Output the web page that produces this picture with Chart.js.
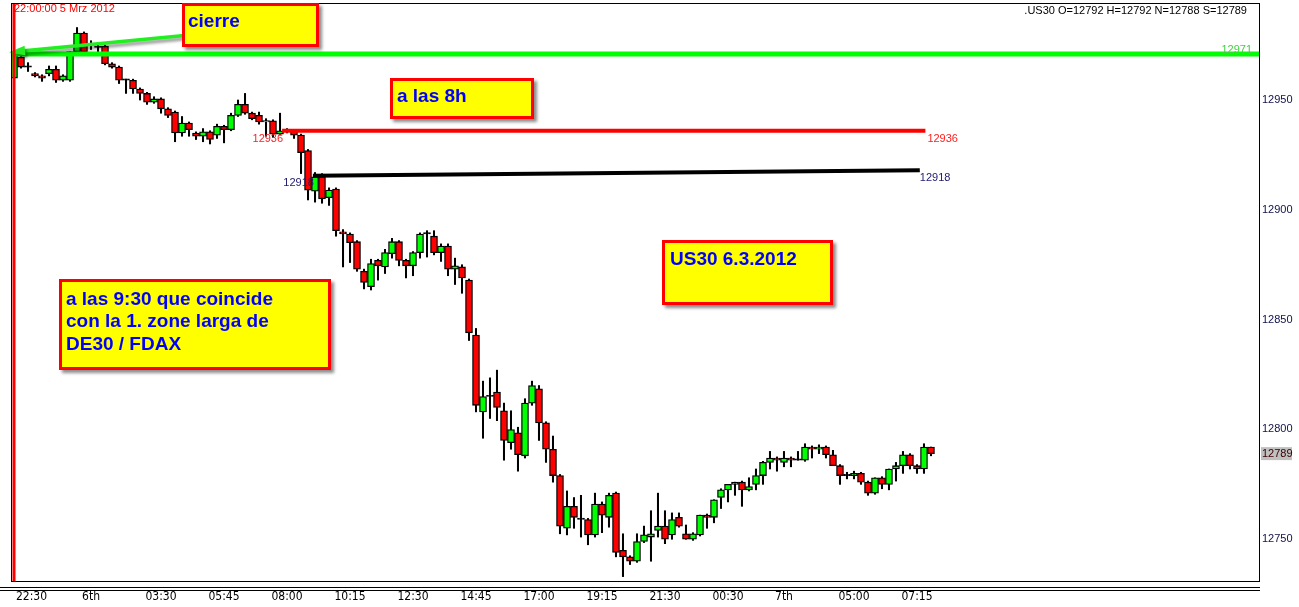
<!DOCTYPE html>
<html lang="es">
<head>
  <meta charset="UTF-8" />
  <title>US30 6.3.2012</title>
  <script src="https://cdn.jsdelivr.net/npm/chart.js"></script>
  <style>
    html, body {
      margin: 0;
      padding: 0;
      background: #ffffff;
    }
    .wrap {
      position: relative;
      width: 1299px;
      height: 607px;
    }
    .note {
      position: absolute;
      box-sizing: border-box;
      background: #ffff00;
      border: 3px solid #ff0000;
      box-shadow: 3px 3px 3px rgba(0,0,0,0.45);
      color: #0000ff;
      font: bold 19px 'Liberation Sans', Arial, sans-serif;
      line-height: 21.7px;
      white-space: nowrap;
    }
    .info {
      position: absolute;
      font: 11px 'Liberation Sans', Arial, sans-serif;
      white-space: nowrap;
    }
  </style>
</head>
<body>
  <div class="wrap">
    <canvas id="us30"></canvas>

    <div class="info" style="left:14px; top:2px; color:#ff0000;">22:00:00 5 Mrz 2012</div>
    <div class="info" style="right:52px; top:4px; color:#000000;">.US30 O=12792 H=12792 N=12788 S=12789</div>

    <div class="note" style="left:182px; top:3px; width:137px; height:44px; padding:4px 0 0 3px;">cierre</div>
    <div class="note" style="left:390px; top:78px; width:144px; height:41px; padding:4px 0 0 4px;">a las 8h</div>
    <div class="note" style="left:662px; top:240px; width:171px; height:65px; padding:5px 0 0 5px;">US30 6.3.2012</div>
    <div class="note" style="left:59px; top:279px; width:272px; height:91px; padding:5.6px 0 0 4px; line-height:22.5px;">a las 9:30 que coincide<br>con la 1. zone larga de<br>DE30 / FDAX</div>
  </div>

  <script>
    // 15-minute bars, 5 Mrz 22:00 -> 7 Mrz ~07:30
    const opens = [
      12960, 12969.5, 12965, 12962, 12961, 12962, 12964, 12959, 12959, 12972,
      12980.5, 12975, 12974, 12974.5, 12966.5, 12965, 12959, 12959, 12955, 12953,
      12949, 12950.5, 12946, 12944.5, 12935, 12939.5, 12935, 12933.5, 12935.5, 12934,
      12938, 12936.5, 12943, 12948, 12944, 12943, 12940, 12940.5, 12934.5, 12936,
      12936, 12934, 12927, 12908.5, 12915, 12905.5, 12909.5, 12890, 12889, 12885.5,
      12872, 12865, 12877, 12874, 12880, 12885.5, 12877, 12874.5, 12880.5, 12889,
      12888, 12880.5, 12883.5, 12873, 12874, 12868, 12843, 12808, 12815, 12817,
      12808.5, 12794, 12798.5, 12788, 12812, 12818.5, 12803, 12791, 12779, 12755,
      12765, 12759, 12759, 12752, 12766, 12760, 12771, 12745, 12742, 12740,
      12749, 12751, 12754, 12756, 12752, 12760, 12752.5, 12750, 12752, 12761,
      12760, 12769, 12772.5, 12775, 12776, 12772.5, 12775, 12779, 12785, 12787,
      12785, 12787, 12786, 12786, 12792, 12791, 12792, 12788.5, 12783.5, 12779,
      12779, 12780, 12776, 12771, 12778, 12775, 12782, 12783.5, 12788.5, 12783.5, 12782, 12792
    ];
    const highs = [
      12972, 12970, 12967, 12962.5, 12961.5, 12965.5, 12965.5, 12961.5, 12972, 12983,
      12981, 12977, 12976, 12975, 12967, 12965.5, 12959.5, 12959.5, 12955.5, 12953.5,
      12951.5, 12951, 12946.5, 12945, 12942.5, 12940, 12935.5, 12937, 12936, 12939,
      12938.5, 12944, 12950, 12953, 12944.5, 12944.5, 12941.5, 12941, 12944, 12937,
      12936.5, 12934.5, 12927.5, 12917, 12916.5, 12910, 12910, 12891, 12889.5, 12886,
      12873, 12877.5, 12877.5, 12882, 12887, 12886, 12877.5, 12881, 12889.5, 12890.5,
      12890.5, 12884.5, 12884.5, 12878, 12875, 12868.5, 12846, 12822, 12823.5, 12827,
      12812, 12808.5, 12801, 12814, 12822, 12820, 12803.5, 12797, 12779.5, 12772,
      12769, 12770, 12759.5, 12771, 12767, 12771, 12771.5, 12752.5, 12742.5, 12752.5,
      12756, 12763, 12771, 12763, 12762, 12762, 12756.5, 12753, 12761, 12761.5,
      12768, 12773, 12775, 12776, 12776.5, 12778, 12782, 12785.5, 12790, 12787.5,
      12790, 12787.5, 12790, 12793.5, 12792.5, 12793, 12792.5, 12790.5, 12784, 12780.5,
      12781, 12780.5, 12776.5, 12778, 12778.5, 12782, 12785, 12790, 12789, 12784, 12793.5, 12792
    ];
    const lows = [
      12959, 12964.5, 12963, 12960.5, 12958.5, 12961, 12958, 12958.5, 12958.5, 12971,
      12971.5, 12973, 12972, 12966, 12964.5, 12957.5, 12953, 12953, 12950, 12948,
      12948.5, 12944, 12942, 12931, 12933.5, 12933.5, 12932, 12931, 12930, 12932.5,
      12930.5, 12936, 12942.5, 12943.5, 12941, 12939, 12933.5, 12933, 12934, 12935,
      12932.5, 12916.5, 12904.5, 12903.5, 12903, 12902, 12888, 12874, 12876, 12872,
      12864, 12863.5, 12868, 12871, 12878, 12874.5, 12869, 12870, 12878, 12878.5,
      12879.5, 12876.5, 12870, 12866, 12862, 12840.5, 12808, 12796, 12805, 12804,
      12786, 12791, 12781, 12787, 12811, 12795, 12785, 12776, 12752.5, 12752,
      12755, 12751, 12747.5, 12751, 12753, 12755.5, 12742, 12733, 12738.5, 12739.5,
      12748.5, 12740, 12751, 12748, 12750, 12755.5, 12750, 12749.5, 12751.5, 12755,
      12757.5, 12764, 12767, 12770, 12765, 12772, 12772.5, 12775, 12782, 12781,
      12783, 12783, 12786, 12785.5, 12787, 12789, 12787, 12783.5, 12775, 12777.5,
      12777.5, 12775, 12770, 12770.5, 12773, 12772.5, 12776.5, 12780, 12782, 12780, 12780, 12788
    ];
    const closes = [
      12971, 12965, 12965, 12961, 12960, 12964, 12959, 12961, 12972, 12980.5,
      12972, 12975, 12974, 12966.5, 12965, 12959, 12959, 12955, 12953, 12949,
      12950.5, 12946, 12943, 12935, 12939.5, 12936.5, 12933.5, 12935.5, 12932, 12938,
      12936.5, 12943, 12948, 12944, 12941.5, 12940, 12940.5, 12934.5, 12936, 12936,
      12934, 12926, 12909, 12915, 12905, 12909, 12890.5, 12889, 12885, 12873,
      12867, 12875.5, 12874.5, 12880.5, 12885.5, 12877, 12874.5, 12880.5, 12889, 12889,
      12880.5, 12883.5, 12873, 12874.5, 12869, 12844, 12811, 12815, 12815, 12810,
      12795, 12800, 12788.5, 12812, 12820, 12803, 12791, 12779, 12756, 12765,
      12760, 12759, 12752, 12766, 12761, 12770, 12744, 12742, 12740, 12749,
      12752, 12752.5, 12756, 12750, 12759, 12756, 12750, 12752.5, 12761, 12760,
      12768, 12772.5, 12775, 12776, 12772.5, 12774, 12779, 12785, 12787, 12786,
      12787, 12786, 12786, 12792, 12791, 12792, 12788.5, 12783.5, 12779, 12779,
      12780, 12776, 12771, 12778, 12775, 12782, 12783.5, 12788.5, 12783.5, 12782, 12792, 12789
    ];

    // time axis labels (bar index -> text)
    const xTickIdx = [2.5, 11, 21, 30, 39, 48, 57, 66, 75, 84, 93, 102, 110, 120, 129];
    const xTickText = ['22:30', '6th', '03:30', '05:45', '08:00', '10:15', '12:30', '14:45',
                       '17:00', '19:15', '21:30', '00:30', '7th', '05:00', '07:15'];
    const yTicks = [12750, 12800, 12850, 12900, 12950];

    // drawn levels: bar index range and price
    const lineGreenX = [-0.43, 177.86], lineGreenY = [12971, 12971];
    const lineRedX = [38.3, 130.2], lineRedY = [12936, 12936];
    const lineBlackX = [42.7, 129.4], lineBlackY = [12915.5, 12918];
    // arrow from the "cierre" note to the close level
    const arrowX = [25.1, -0.7], arrowY = [12979.6, 12971.8];

    const xy = (xs, ys) => xs.map((x, i) => ({ x: x, y: ys[i] }));

    const wickData = opens.map((o, i) => ({ x: i, y: [lows[i], highs[i]] }));
    const bodyData = opens.map((o, i) => ({ x: i, y: [o, closes[i]] }));
    const bodyColors = opens.map((o, i) =>
      closes[i] > o ? '#00ff00' : (closes[i] < o ? '#ff0000' : '#000000'));

    const sans = "'Liberation Sans', Arial, sans-serif";

    const overlay = {
      id: 'overlay',
      afterDatasetsDraw(chart) {
        const { ctx, chartArea: a, scales } = chart;
        const px = v => scales.x.getPixelForValue(v);
        const py = v => scales.y.getPixelForValue(v);

        // arrow
        ctx.save();
        const x0 = px(arrowX[0]), y0 = py(arrowY[0]);
        const x1 = px(arrowX[1]), y1 = py(arrowY[1]);
        const ang = Math.atan2(y1 - y0, x1 - x0);
        const c = Math.cos(ang), s = Math.sin(ang);
        ctx.shadowColor = 'rgba(0,0,0,0.4)';
        ctx.shadowOffsetX = 2;
        ctx.shadowOffsetY = 3;
        ctx.shadowBlur = 3;
        ctx.strokeStyle = '#22ee22';
        ctx.fillStyle = '#22ee22';
        ctx.lineWidth = 3.5;
        ctx.beginPath();
        ctx.moveTo(x0, y0);
        ctx.lineTo(x1 - 10 * c, y1 - 10 * s);
        ctx.stroke();
        ctx.beginPath();
        ctx.moveTo(x1, y1);
        ctx.lineTo(x1 - 16 * c + 5 * s, y1 - 16 * s - 5 * c);
        ctx.lineTo(x1 - 16 * c - 5 * s, y1 - 16 * s + 5 * c);
        ctx.closePath();
        ctx.fill();
        ctx.restore();

        // level labels
        ctx.save();
        ctx.font = '11px ' + sans;
        ctx.textBaseline = 'alphabetic';

        ctx.fillStyle = '#40d040';
        ctx.textAlign = 'right';
        ctx.fillText(String(lineGreenY[1]), a.right - 7, py(lineGreenY[1]) - 1);

        ctx.fillStyle = '#ff2020';
        ctx.textAlign = 'right';
        ctx.fillText(String(lineRedY[0]), px(lineRedX[0]) + 1, py(lineRedY[0]) + 11);
        ctx.textAlign = 'left';
        ctx.fillText(String(lineRedY[1]), px(lineRedX[1]) + 2, py(lineRedY[1]) + 11);

        ctx.fillStyle = '#1e1a6e';
        ctx.textAlign = 'right';
        ctx.fillText(String(lineBlackY[1]), px(lineBlackX[0]) + 1, py(lineBlackY[0]) + 10);
        ctx.textAlign = 'left';
        ctx.fillText(String(lineBlackY[1]), px(lineBlackX[1]), py(lineBlackY[1]) + 11);
        ctx.restore();

        // session start marker
        ctx.save();
        ctx.strokeStyle = '#ff0000';
        ctx.lineWidth = 3;
        ctx.beginPath();
        ctx.moveTo(px(0), a.top);
        ctx.lineTo(px(0), a.bottom);
        ctx.stroke();
        ctx.restore();
      },
      afterDraw(chart) {
        const { ctx, chartArea: a, scales } = chart;
        ctx.save();
        ctx.strokeStyle = '#000000';
        ctx.lineWidth = 1;
        ctx.strokeRect(Math.round(a.left) + 0.5, Math.round(a.top) + 0.5,
                       Math.round(a.right - a.left), Math.round(a.bottom - a.top));
        // double separator above the time axis
        ctx.beginPath();
        ctx.moveTo(0, a.bottom + 6.5); ctx.lineTo(a.right + 1, a.bottom + 6.5);
        ctx.moveTo(0, a.bottom + 9.5); ctx.lineTo(a.right + 1, a.bottom + 9.5);
        ctx.stroke();

        // last price tag
        const last = closes[closes.length - 1];
        const y = scales.y.getPixelForValue(last);
        ctx.fillStyle = '#c0c0c0';
        ctx.fillRect(a.right + 2, y - 6.5, 31, 13);
        ctx.fillStyle = '#3a0000';
        ctx.font = '11px ' + sans;
        ctx.textBaseline = 'middle';
        ctx.textAlign = 'left';
        ctx.fillText(String(last), a.right + 3, y + 0.5);
        ctx.restore();
      }
    };

    const lineStyle = (color, width) => ({
      type: 'line',
      borderColor: color,
      borderWidth: width,
      pointRadius: 0,
      fill: false,
      tension: 0,
      order: 1
    });

    const noPad = scale => {
      scale.paddingTop = 0;
      scale.paddingBottom = 0;
      scale.paddingLeft = 0;
      scale.paddingRight = 0;
    };

    new Chart(document.getElementById('us30').getContext('2d'), {
      type: 'bar',
      data: {
        datasets: [
          {
            data: wickData,
            backgroundColor: '#000000',
            barThickness: 1.4,
            grouped: false,
            order: 3
          },
          {
            data: bodyData,
            backgroundColor: bodyColors,
            borderColor: '#000000',
            borderWidth: 1.3,
            borderSkipped: false,
            barThickness: 7,
            minBarLength: 1.3,
            grouped: false,
            order: 2
          },
          Object.assign({ data: xy(lineGreenX, lineGreenY) }, lineStyle('#00ff00', 5)),
          Object.assign({ data: xy(lineRedX, lineRedY) }, lineStyle('#ff0000', 4)),
          Object.assign({ data: xy(lineBlackX, lineBlackY) }, lineStyle('#000000', 4))
        ]
      },
      options: {
        responsive: true,
        maintainAspectRatio: false,
        animation: false,
        events: [],
        layout: { padding: { left: 11, top: 3, right: 0, bottom: 0 } },
        plugins: {
          legend: { display: false },
          tooltip: { enabled: false }
        },
        scales: {
          x: {
            type: 'linear',
            offset: false,
            min: -0.43,
            max: 177.86,
            grid: { display: false, drawTicks: false },
            border: { display: false },
            afterBuildTicks: scale => { scale.ticks = xTickIdx.map(v => ({ value: v })); },
            afterFit: scale => { scale.height = 26; noPad(scale); },
            ticks: {
              autoSkip: false,
              maxRotation: 0,
              padding: 9,
              color: '#000000',
              font: { family: "'Liberation Sans Narrow', 'DejaVu Sans Condensed', Arial, sans-serif", size: 12 },
              callback: (value, index) => xTickText[index]
            }
          },
          y: {
            position: 'right',
            min: 12731.0,
            max: 12994.17,
            grid: { display: false, drawTicks: false },
            border: { display: false },
            afterBuildTicks: scale => { scale.ticks = yTicks.map(v => ({ value: v })); },
            afterFit: scale => { scale.width = 40; noPad(scale); },
            ticks: {
              padding: 3,
              color: '#10104a',
              font: { family: "'Liberation Sans', Arial, sans-serif", size: 11 },
              callback: value => String(value)
            }
          }
        }
      },
      plugins: [overlay]
    });
  </script>
</body>
</html>
